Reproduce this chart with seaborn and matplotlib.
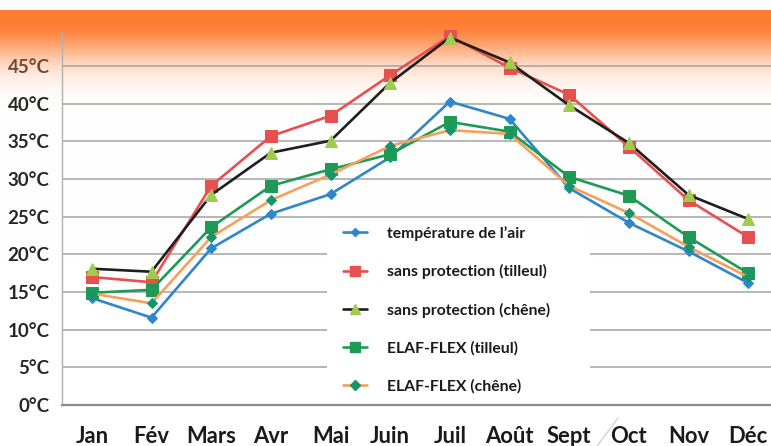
import numpy as np
import pandas as pd
import matplotlib
matplotlib.use("Agg")
import matplotlib.pyplot as plt
import seaborn as sns
from matplotlib.lines import Line2D
from matplotlib.patches import Rectangle

months = ['Jan', 'Fév', 'Mars', 'Avr', 'Mai', 'Juin', 'Juil', 'Août', 'Sept', 'Oct', 'Nov', 'Déc']
air_temp = [14.2, 11.6, 20.8, 25.4, 28.0, 32.9, 40.3, 38.0, 28.8, 24.2, 20.4, 16.2]
sans_tilleul = [17.0, 16.3, 29.1, 35.7, 38.4, 43.8, 49.0, 44.8, 41.2, 34.3, 27.2, 22.3]
sans_chene = [18.1, 17.7, 27.9, 33.5, 35.1, 42.8, 48.8, 45.5, 39.8, 34.8, 27.9, 24.7]
elaf_tilleul = [14.9, 15.3, 23.6, 29.1, 31.3, 33.3, 37.6, 36.3, 30.3, 27.8, 22.3, 17.5]
elaf_chene = [14.8, 13.5, 22.3, 27.2, 30.6, 34.4, 36.5, 36.0, 29.1, 25.5, 21.0, 17.0]
labels = ['température de l’air', 'sans protection (tilleul)', 'sans protection (chêne)',
          'ELAF-FLEX (tilleul)', 'ELAF-FLEX (chêne)']
yticks = [0, 5, 10, 15, 20, 25, 30, 35, 40, 45]

sns.set_theme(style="white")
plt.rcParams['font.family'] = ['Lato', 'DejaVu Sans']

W, H = 771, 446
fig = plt.figure(figsize=(W / 100, H / 100), dpi=100)

# background gradient
bg = fig.add_axes([0, 0, 1, 1], zorder=0)
ys = np.arange(H)
w = np.where(ys < 10, 0.0, np.exp(-(np.clip(ys - 20, 0, None) / 40.0) ** 2))
orange = np.array([255, 125, 50]) / 255.0
col = w[:, None] * orange[None, :] + (1 - w[:, None]) * np.ones(3)[None, :]
img = np.repeat(col[:, None, :], 8, axis=1)
bg.imshow(img, aspect='auto', extent=[0, 1, 0, 1], origin='upper')
bg.set_xlim(0, 1)
bg.set_ylim(0, 1)
bg.axis('off')
# faint scan artifact near "Oct"
bg.add_line(Line2D([597 / W, 618 / W], [0, 1 - 418 / H], color='#d4d4d4', lw=1.0))

ymax = 49.6
x0, x1 = 62, 778
yb, yt = 405, 405 - ymax * 7.53
ax = fig.add_axes([x0 / W, 1 - yb / H, (x1 - x0) / W, (yb - yt) / H], zorder=1)
ax.set_facecolor('none')

series = [
    (air_temp, '#2f86c9', 'D', 5, '#2f86c9', '#2f86c9'),
    (sans_tilleul, '#e6504e', 's', 8, '#e6504e', '#e6504e'),
    (sans_chene, '#1e1e1e', '^', 8, '#9fcc4f', '#9fcc4f'),
    (elaf_tilleul, '#1e9a55', 's', 8, '#1e9a55', '#1e9a55'),
    (elaf_chene, '#f5a05c', 'D', 5.5, '#17956a', '#17956a'),
]
handles = []
for (vals, c, m, ms, mfc, mec), lab in zip(series, labels):
    df = pd.DataFrame({'mois': months, 'temp': vals})
    sns.lineplot(data=df, x='mois', y='temp', sort=False, ax=ax, color=c, lw=1.9,
                 marker=m, markersize=ms, markerfacecolor=mfc, markeredgecolor=mec,
                 clip_on=False, zorder=3)
    handles.append(Line2D([0], [0], color=c, lw=1.9, marker=m, markersize=ms * 0.85,
                          markerfacecolor=mfc, markeredgecolor=mec))

ax.set_xlim(-0.5, len(months) - 0.5)
ax.set_ylim(0, ymax)
ax.set_xlabel('')
ax.set_ylabel('')
ax.set_yticks(yticks)
ax.set_yticklabels([f'{v}°C' for v in yticks])
ax.yaxis.grid(True, color='#a3a3a3', lw=1.1)
ax.set_axisbelow(True)
ax.tick_params(axis='y', length=5, color='#a3a3a3', width=1.1, pad=4, labelsize=13.5,
               labelcolor='#262626')
for t in ax.get_yticklabels():
    t.set_fontweight('bold')
ax.get_yticklabels()[-1].set_color('#6e4a36')
ax.set_xticks(range(len(months)))
ax.set_xticklabels(months)
ax.set_xticks(np.arange(-0.5, len(months), 1), minor=True)
ax.tick_params(axis='x', which='major', length=0, pad=15, labelsize=15.8, labelcolor='#1a1a1a')
ax.tick_params(axis='x', which='minor', length=5, color='#8c8c8c', width=1.2, direction='inout')
for t in ax.get_xticklabels():
    t.set_fontweight('bold')
for s in ['top', 'right']:
    ax.spines[s].set_visible(False)
ax.spines['left'].set_color('#b0b0b0')
ax.spines['left'].set_linewidth(1.0)
ax.spines['bottom'].set_color('#8c8c8c')
ax.spines['bottom'].set_linewidth(1.6)

# white box behind the legend
ax.add_patch(Rectangle((327 / W, 1 - 403 / H), (590 - 327) / W, (403 - 219) / H,
                       transform=fig.transFigure, facecolor='white', edgecolor='none',
                       zorder=2))

leg = ax.legend(handles, labels, loc='upper left',
                bbox_to_anchor=(343 / W, 1 - 226 / H), bbox_transform=fig.transFigure,
                frameon=False, prop={'weight': 'bold', 'size': 11.3},
                handlelength=1.53, handletextpad=1.27, labelspacing=1.49,
                borderpad=0, borderaxespad=0)
leg.set_zorder(5)
for t in leg.get_texts():
    t.set_color('#1a1a1a')

fig.savefig('out.png', dpi=100)
